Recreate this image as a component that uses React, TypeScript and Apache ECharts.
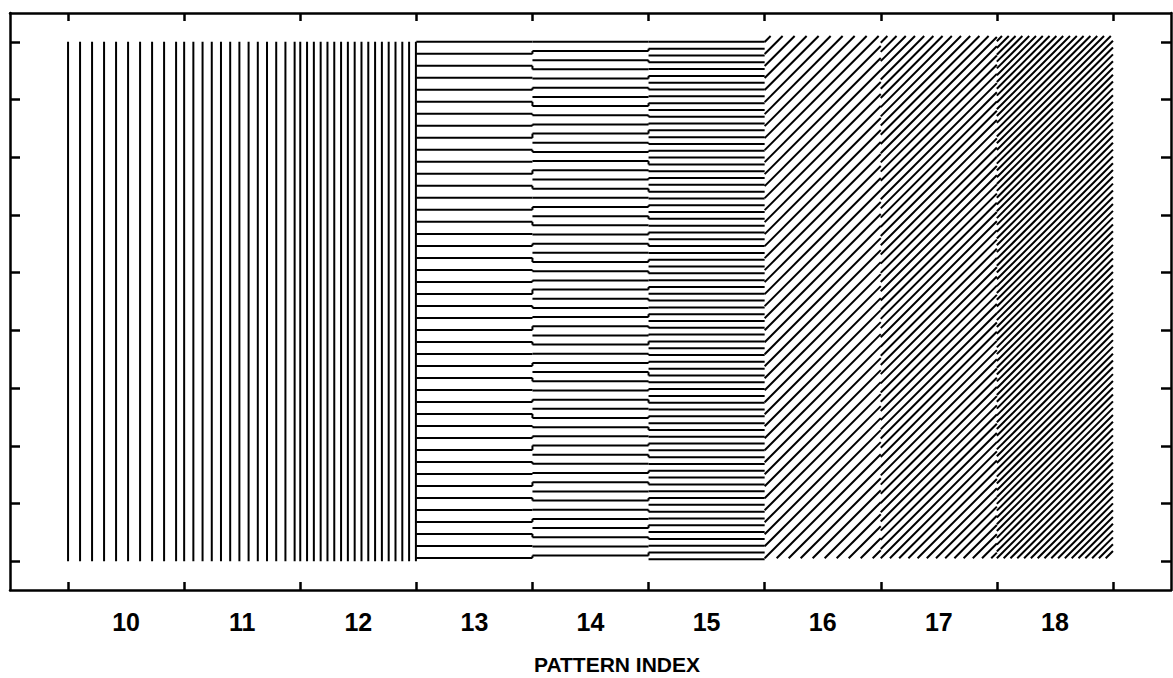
import React, { useEffect, useRef } from "react";
import * as echarts from "echarts";

// ---- data ----
const patternIndices = [10, 11, 12, 13, 14, 15, 16, 17, 18];
const patternKinds = [
  "vertical", "vertical", "vertical",
  "horizontal", "horizontal", "horizontal",
  "diagonal", "diagonal", "diagonal",
];
// hatch spacing in data units (x-units for vertical/diagonal, y-units for horizontal)
const hatchSpacing = [0.1034, 0.0793, 0.0586, 0.208, 0.159, 0.118, 0.1034, 0.0793, 0.0586];
const hatchBottom = [0.5, 0.5, 0.5, 0.5, 0.5, 0.5, 0.55, 0.55, 0.55];
const hatchTop = [9.5, 9.5, 9.5, 9.5, 9.5, 9.5, 9.6, 9.6, 9.6];
const xTickSlots = ["9.5", "10.5", "11.5", "12.5", "13.5", "14.5", "15.5", "16.5", "17.5", "18.5"];
const yTickSlots = ["0.5", "1.5", "2.5", "3.5", "4.5", "5.5", "6.5", "7.5", "8.5", "9.5"];
const xLabelValues = ["10", "11", "12", "13", "14", "15", "16", "17", "18"];
const axisTitle = "PATTERN INDEX";

const FONT = "'Liberation Sans', Arial, sans-serif";

export default function App() {
  const ref = useRef<HTMLDivElement>(null);

  useEffect(() => {
    if (!ref.current) return;
    const chart = echarts.init(ref.current, undefined, { renderer: "svg" });

    const lineStyle = { stroke: "#000", lineWidth: 2 };

    const renderItem = (params: any, api: any) => {
      const i = params.dataIndex;
      const idx = api.value(0);
      const yb0 = api.value(1);
      const yt0 = api.value(2);
      const sp = api.value(3);
      const kind = patternKinds[i];
      const [x1, yt] = api.coord([idx - 0.5, yt0]);
      const [x2, yb] = api.coord([idx + 0.5, yb0]);
      const children: any[] = [];
      const seg = (ax: number, ay: number, bx: number, by: number) =>
        children.push({
          type: "line",
          shape: { x1: ax, y1: ay, x2: bx, y2: by },
          style: lineStyle,
        });

      if (kind === "vertical") {
        const s = api.size([sp, 0])[0];
        for (let x = x1; x <= x2 + 0.01; x += s) seg(x, yt, x, yb);
      } else if (kind === "horizontal") {
        const s = api.size([0, sp])[1];
        const ys: number[] = [];
        for (let y = yt; y <= yb + 0.01; y += s) {
          ys.push(y);
          seg(x1, y, x2, y);
        }
        if (i > 0 && patternKinds[i - 1] === "horizontal") {
          const ps = api.size([0, hatchSpacing[i - 1]])[1];
          for (let y = yt; y <= yb + 0.01; y += ps) {
            let best = ys[0];
            for (const yy of ys) if (Math.abs(yy - y) < Math.abs(best - y)) best = yy;
            if (Math.abs(best - y) > 0.8 && Math.abs(best - y) < s) seg(x1, y, x1, best);
          }
        }
      } else {
        const s = api.size([sp, 0])[0];
        const c0 = x1 + yb;
        const kmin = Math.ceil((x1 + yt - c0) / s);
        const kmax = Math.floor((x2 + yb - c0) / s);
        for (let k = kmin; k <= kmax; k++) {
          const c = c0 + k * s;
          const pa = Math.max(x1, c - yb);
          const pb = Math.min(x2, c - yt);
          if (pb - pa > 0.5) seg(pa, c - pa, pb, c - pb);
        }
      }
      return { type: "group", children };
    };

    const tickAxisCommon = {
      type: "category" as const,
      boundaryGap: true,
      axisLine: { show: true, lineStyle: { color: "#000", width: 2.5 } },
      axisLabel: { show: false, interval: 0 },
      splitLine: { show: false },
    };

    chart.setOption({
      animation: false,
      backgroundColor: "#fff",
      grid: { left: 10, right: 2, top: 13, bottom: 88, containLabel: false },
      xAxis: [
        {
          type: "value",
          min: 9,
          max: 19,
          interval: 1,
          position: "bottom",
          axisLine: { show: false },
          axisTick: { show: false },
          splitLine: { show: false },
          axisLabel: {
            showMinLabel: false,
            showMaxLabel: false,
            margin: 19,
            color: "#000",
            fontFamily: FONT,
            fontWeight: "bold",
            fontSize: 25,
            formatter: (v: number) => xLabelValues[Math.round(v) - 10] ?? "",
          },
        },
        {
          ...tickAxisCommon,
          data: xTickSlots,
          position: "bottom",
          axisTick: { show: true, inside: true, alignWithLabel: true, interval: 0, length: 8, lineStyle: { color: "#000", width: 2.5 } },
        },
        {
          ...tickAxisCommon,
          data: xTickSlots,
          position: "top",
          axisTick: { show: true, inside: true, alignWithLabel: true, interval: 0, length: 8, lineStyle: { color: "#000", width: 2.5 } },
        },
      ],
      yAxis: [
        {
          type: "value",
          min: 0,
          max: 10,
          show: false,
        },
        {
          ...tickAxisCommon,
          data: yTickSlots,
          position: "left",
          axisTick: { show: true, inside: true, alignWithLabel: true, interval: 0, length: 10, lineStyle: { color: "#000", width: 2.5 } },
        },
        {
          ...tickAxisCommon,
          data: yTickSlots,
          position: "right",
          axisTick: { show: true, inside: true, alignWithLabel: true, interval: 0, length: 10, lineStyle: { color: "#000", width: 2.5 } },
        },
      ],
      series: [
        {
          type: "custom",
          xAxisIndex: 0,
          yAxisIndex: 0,
          renderItem,
          encode: { x: 0, y: [1, 2] },
          data: patternIndices.map((p, i) => [p, hatchBottom[i], hatchTop[i], hatchSpacing[i]]),
          clip: false,
        },
      ],
      graphic: [
        {
          type: "text",
          x: 617,
          y: 664,
          style: {
            text: axisTitle,
            fill: "#000",
            font: `bold 21px ${FONT}`,
            textAlign: "center",
            textVerticalAlign: "middle",
          },
        },
      ],
    });

    return () => chart.dispose();
  }, []);

  return (
    <div
      ref={ref}
      style={{ position: "fixed", left: 0, top: 0, width: 1173, height: 678, background: "#fff" }}
    />
  );
}
